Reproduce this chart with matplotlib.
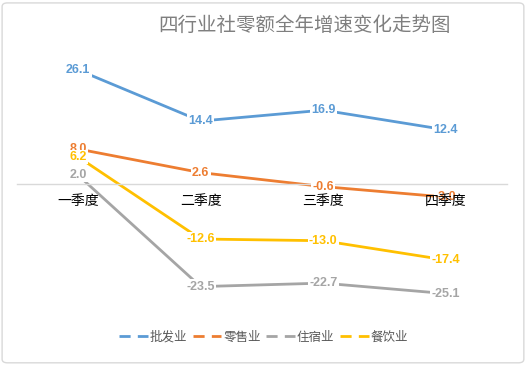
import matplotlib
matplotlib.use("Agg")
import matplotlib.pyplot as plt
from matplotlib.lines import Line2D
from matplotlib.patches import FancyBboxPatch

plt.rcParams['font.family'] = ['Noto Sans CJK SC', 'DejaVu Sans']

title = '四行业社零额全年增速变化走势图'
quarters = ['一季度', '二季度', '三季度', '四季度']
names = ['批发业', '零售业', '住宿业', '餐饮业']
wholesale = [26.1, 14.4, 16.9, 12.4]
retail = [8.0, 2.6, -0.6, -3.0]
lodging = [2.0, -23.5, -22.7, -25.1]
catering = [6.2, -12.6, -13.0, -17.4]
colors = ['#5B9BD5', '#ED7D31', '#A5A5A5', '#FFC000']

series = [wholesale, retail, lodging, catering]

fig = plt.figure(figsize=(5.27, 3.65), dpi=100)
ax = fig.add_axes([0.032, 0.137, 0.93, 0.718])

x = list(range(len(quarters)))
for vals, c in zip(series, colors):
    ax.plot(x, vals, color=c, lw=2, zorder=2, solid_capstyle='round')
    for xi, v in zip(x, vals):
        ax.text(xi, v, '%.1f' % v, ha='center', va='center', color=c,
                fontsize=9, fontweight='bold', family='Liberation Sans',
                zorder=3,
                bbox=dict(boxstyle='square,pad=0.1', fc='white', ec='none'))

ax.set_xlim(-0.5, 3.5)
ax.set_ylim(-30, 30)
ax.set_yticks([])
ax.set_xticks(x)
ax.set_xticklabels(quarters, fontsize=10, color='#595959')
ax.tick_params(axis='x', length=0, pad=7)
ax.xaxis.set_zorder(5)
for s in ['top', 'right', 'left']:
    ax.spines[s].set_visible(False)
ax.spines['bottom'].set_position(('data', 0))
ax.spines['bottom'].set_color('#D9D9D9')
ax.spines['bottom'].set_linewidth(1)
ax.patch.set_alpha(0)

# legend samples drawn as two short dashes, like the original
handles = [Line2D([0], [0], color=c, lw=2, linestyle=(0, (4, 2.6))) for c in colors]
leg = fig.legend(handles, names, loc='center', bbox_to_anchor=(0.5, 1 - 337 / 365),
                 ncol=4, frameon=False, fontsize=9, handlelength=2.3,
                 handletextpad=0.15, columnspacing=0.45)
for t in leg.get_texts():
    t.set_color('#595959')

fig.text(304 / 527, 1 - 25 / 365, title, ha='center', va='center',
         fontsize=14, color='#7F7F7F')

fig.patches.append(FancyBboxPatch((0.004, 0.006), 0.99, 0.986,
                                  boxstyle='round,pad=0,rounding_size=0.01',
                                  transform=fig.transFigure, fc='none',
                                  ec='#D9D9D9', lw=1))

fig.savefig('out.png', dpi=100)
